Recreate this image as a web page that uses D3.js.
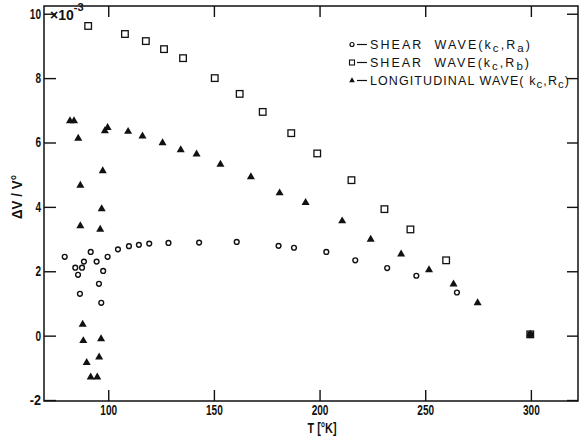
<!DOCTYPE html>
<meta charset='utf-8'>
<style>
  body { margin: 0; background: #fff; }
  svg { display: block; }
  text { font-family: 'Liberation Sans', Arial, sans-serif; fill: #111; }
  .tick line { stroke: #111; stroke-width: 1.4px; }
  .tick text { font-size: 14px; font-weight: bold; }
  .legend text { font-size: 12.5px; }
</style>
<svg width='579' height='440'></svg>
<script src='https://cdn.jsdelivr.net/npm/d3@7/dist/d3.min.js'></script>
<script>
  // T [K], dV/V (x 10^-3)
  var shearA = [
    [79.4, 2.45], [84.4, 2.11], [85.7, 1.89], [86.6, 1.30], [87.6, 2.11], [88.5, 2.30],
    [91.7, 2.60], [94.5, 2.30], [95.6, 1.61], [96.7, 1.02], [97.6, 2.01], [99.7, 2.45],
    [104.6, 2.68], [109.8, 2.78], [114.5, 2.82], [119.4, 2.86], [128.5, 2.88], [143.0, 2.89],
    [160.8, 2.91], [180.6, 2.79], [187.9, 2.73], [203.2, 2.60], [216.9, 2.34], [232.0, 2.10],
    [245.8, 1.86], [265.0, 1.34], [299.7, 0.04]
  ];
  var shearB = [
    [90.5, 9.62], [107.9, 9.37], [117.8, 9.15], [126.4, 8.90], [135.4, 8.62], [150.4, 8.00],
    [162.2, 7.51], [173.1, 6.95], [186.6, 6.29], [198.9, 5.66], [215.1, 4.83], [230.7, 3.93],
    [243.0, 3.30], [259.9, 2.34], [299.7, 0.04]
  ];
  var longC = [
    [81.9, 6.67], [83.8, 6.67], [85.8, 6.13], [86.8, 4.67], [86.8, 3.41], [87.9, 0.35],
    [88.2, -0.16], [89.8, -0.84], [91.7, -1.29], [94.8, -1.29], [95.7, -0.67], [96.6, -0.10],
    [96.2, 3.30], [96.9, 3.94], [97.4, 5.12], [98.4, 6.36], [99.7, 6.46], [109.4, 6.34],
    [116.2, 6.20], [125.7, 5.99], [134.3, 5.77], [141.8, 5.64], [153.1, 5.32], [167.5, 4.93],
    [181.1, 4.43], [193.4, 4.13], [210.7, 3.56], [224.2, 2.99], [238.6, 2.53], [251.8, 2.04],
    [263.4, 1.60], [274.8, 1.02], [299.7, 0.04]
  ];
  var xTicks = [100, 150, 200, 250, 300];
  var yTicks = [-2, 0, 2, 4, 6, 8, 10];

  var svg = d3.select('svg');
  var mLeft = 44, mRight = 578, mTop = 6, mBottom = 401;

  var x = d3.scaleLinear().domain([69.6, 322.3]).range([mLeft, mRight]);
  var y = d3.scaleLinear().domain([-2.03, 10.24]).range([mBottom, mTop]);

  // narrow lettering like the original figure
  function squeeze(sel) {
    sel.attr('textLength', function() { return this.textContent.length * 5.6; })
      .attr('lengthAdjust', 'spacingAndGlyphs');
  }

  // frame
  svg.append('rect')
    .attr('x', mLeft).attr('y', mTop)
    .attr('width', mRight - mLeft).attr('height', mBottom - mTop)
    .attr('fill', 'none').attr('stroke', '#111').attr('stroke-width', 1.5);

  var gx = svg.append('g').attr('transform', 'translate(0,' + mBottom + ')')
    .call(d3.axisBottom(x).tickValues(xTicks).tickSizeInner(-11).tickSizeOuter(0).tickPadding(4));
  gx.select('.domain').remove();
  gx.selectAll('text').attr('dy', '0.72em').call(squeeze);

  var gxt = svg.append('g').attr('transform', 'translate(0,' + mTop + ')')
    .call(d3.axisTop(x).tickValues(xTicks).tickSizeInner(-11).tickSizeOuter(0).tickFormat(''));
  gxt.select('.domain').remove();

  var gy = svg.append('g').attr('transform', 'translate(' + mLeft + ',0)')
    .call(d3.axisLeft(y).tickValues(yTicks).tickSizeInner(-12).tickSizeOuter(0).tickPadding(3)
      .tickFormat(d => d < 0 ? '-' + Math.abs(d) : String(d)));
  gy.select('.domain').remove();
  gy.selectAll('text').call(squeeze);

  var gyr = svg.append('g').attr('transform', 'translate(' + mRight + ',0)')
    .call(d3.axisRight(y).tickValues(yTicks).tickSizeInner(-11).tickSizeOuter(0).tickFormat(''));
  gyr.select('.domain').remove();

  // x10^-3 multiplier next to the top label
  var mult = svg.append('text')
    .attr('x', mLeft + 6).attr('y', y(10) + 6)
    .style('font-size', '14px').style('font-weight', 'bold');
  mult.append('tspan').text('×10');
  mult.append('tspan').attr('dy', -9).style('font-size', '11px').text('-3');

  // axis titles
  svg.append('text')
    .attr('x', 322).attr('y', 433)
    .attr('text-anchor', 'middle')
    .attr('textLength', 29).attr('lengthAdjust', 'spacingAndGlyphs')
    .style('font-size', '14px').style('font-weight', 'bold')
    .text('T [°K]');

  svg.append('text')
    .attr('transform', 'translate(22,197) rotate(-90)')
    .attr('text-anchor', 'middle')
    .attr('textLength', 44).attr('lengthAdjust', 'spacingAndGlyphs')
    .style('font-size', '14px').style('font-weight', 'bold')
    .text('ΔV / V°');

  // markers
  var tri = d3.symbol().type(d3.symbolTriangle).size(28);

  svg.append('g').selectAll('path')
    .data(longC).enter().append('path')
      .attr('d', tri)
      .attr('transform', d => 'translate(' + x(d[0]) + ',' + y(d[1]) + ')')
      .attr('fill', '#111');

  svg.append('g').selectAll('rect')
    .data(shearB).enter().append('rect')
      .attr('x', d => x(d[0]) - 3.3).attr('y', d => y(d[1]) - 3.3)
      .attr('width', 6.6).attr('height', 6.6)
      .attr('fill', 'none').attr('stroke', '#111').attr('stroke-width', 1.3);

  svg.append('g').selectAll('circle')
    .data(shearA).enter().append('circle')
      .attr('cx', d => x(d[0])).attr('cy', d => y(d[1]))
      .attr('r', 2.4)
      .attr('fill', 'none').attr('stroke', '#111').attr('stroke-width', 1.4);

  // legend
  var legendRows = [
    { mark: 'circle', name: 'SHEAR  WAVE(', sub: 'a', len: 160 },
    { mark: 'square', name: 'SHEAR  WAVE(', sub: 'b', len: 159 },
    { mark: 'triangle', name: 'LONGITUDINAL WAVE( ', sub: 'c', len: 199 }
  ];
  var lg = svg.append('g').attr('class', 'legend');
  legendRows.forEach(function(r, i) {
    var cy = 44.5 + i * 18;
    var cx = 352;
    if (r.mark === 'circle') {
      lg.append('circle').attr('cx', cx).attr('cy', cy).attr('r', 2)
        .attr('fill', 'none').attr('stroke', '#111').attr('stroke-width', 1.2);
    } else if (r.mark === 'square') {
      lg.append('rect').attr('x', cx - 2.5).attr('y', cy - 2.5).attr('width', 5).attr('height', 5)
        .attr('fill', 'none').attr('stroke', '#111').attr('stroke-width', 1.1);
    } else {
      lg.append('path').attr('d', d3.symbol().type(d3.symbolTriangle).size(14))
        .attr('transform', 'translate(' + cx + ',' + cy + ')').attr('fill', '#111');
    }
    lg.append('line').attr('x1', cx + 5).attr('x2', cx + 15).attr('y1', cy).attr('y2', cy)
      .attr('stroke', '#111').attr('stroke-width', 1.2);
    var t = lg.append('text').attr('x', cx + 18).attr('y', cy + 4.5)
      .attr('textLength', r.len).attr('lengthAdjust', 'spacing')
      .style('white-space', 'pre');
    t.append('tspan').text(r.name + 'k');
    t.append('tspan').attr('dy', 3).style('font-size', '11.5px').text('c');
    t.append('tspan').attr('dy', -3).text(',R');
    t.append('tspan').attr('dy', 3).style('font-size', '11.5px').text(r.sub);
    t.append('tspan').attr('dy', -3).text(')');
  });
</script>
